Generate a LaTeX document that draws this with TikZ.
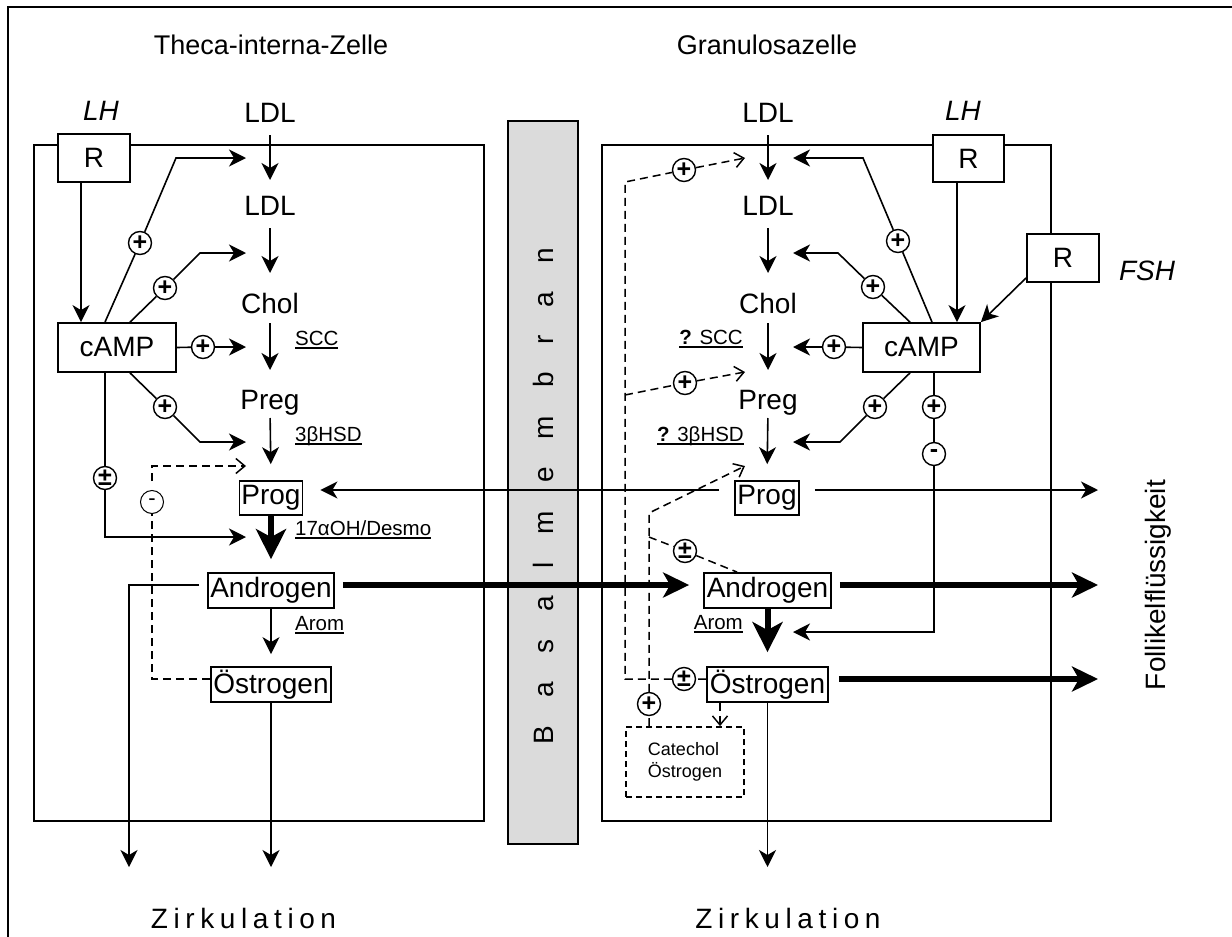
\documentclass[tikz,border=0pt]{standalone}
\usepackage{fontspec}
\setmainfont{Liberation Sans}
\usetikzlibrary{arrows.meta}
\newsavebox{\ulbox}
\newcommand{\ulab}[1]{\sbox{\ulbox}{#1}\rlap{\rule[-3.5pt]{\wd\ulbox}{1.3pt}}\usebox{\ulbox}}
\begin{document}
\begin{tikzpicture}[x=1pt,y=-1pt,
  lab/.style={font=\fontsize{28}{32}\selectfont, inner sep=0pt, anchor=base},
  ttl/.style={font=\fontsize{27}{30}\selectfont, inner sep=0pt, anchor=base},
  itl/.style={lab, font=\fontsize{28}{32}\selectfont\itshape},
  small/.style={font=\fontsize{20.5}{24}\selectfont, inner sep=0pt},
  box/.style={draw, line width=1.8pt, fill=white, inner sep=0pt, font=\fontsize{28}{32}\selectfont},
  cell/.style={draw, line width=1.5pt},
  sig/.style={circle, draw, line width=1.4pt, fill=white, minimum size=23pt, inner sep=0pt, font=\fontsize{25}{25}\selectfont\bfseries},
  ln/.style={line width=1.6pt},
  arr/.style={ln, -{Stealth[length=17pt,width=17pt,inset=5pt]}},
  tarr/.style={line width=6pt, -{Stealth[length=30pt,width=30pt,inset=8pt]}},
  tarrh/.style={line width=6pt, -{Stealth[length=26pt,width=25pt,inset=7pt]}},
  dsh/.style={line width=1.5pt, dash pattern=on 8pt off 5pt},
  darr/.style={dsh, -{Straight Barb[length=9pt,width=15pt,line width=1.5pt]}}
]
\useasboundingbox (0,0) rectangle (1232,937);
% outer frame
\draw[line width=2pt] (8,950) -- (8,7) -- (1245,7);
% cells and membrane
\draw[cell] (34,145) rectangle (484,821);
\draw[cell] (602,145) rectangle (1051,821);
\draw[line width=1.5pt, fill=black!14] (508,121) rectangle (578,844);
\node[lab, anchor=center, rotate=90] (bm) at (543,496) {B\kern28pt a\kern28pt s\kern28pt a\kern28pt l\kern28pt m\kern28pt e\kern28pt m\kern28pt b\kern28pt r\kern28pt a\kern28pt n};

% titles
\node[ttl] (tL) at (271,54) {Theca-interna-Zelle};
\node[ttl] (tR) at (767,54) {Granulosazelle};

% helper y levels
\coordinate (yP) at (0,490);
\coordinate (yA) at (0,585);
\coordinate (yO) at (0,679);

% ---------- left cell ----------
\node[lab] (LDLaL) at (270,122) {LDL};
\node[lab] (LDLbL) at (270,215) {LDL};
\node[lab] (CholL) at (270,313) {Chol};
\node[lab] (PregL) at (270,409) {Preg};
\node[box, minimum width=63pt, minimum height=34pt] (ProgL) at (271,498) {Prog};
\node[box, minimum width=126pt, minimum height=35pt] (AndL) at (271,590.5) {Androgen};
\node[box, minimum width=120pt, minimum height=35pt] (OesL) at (271,684.5) {Östrogen};

\draw[arr, shorten <=13pt, shorten >=35pt] (LDLaL.base) -- (LDLbL.base);
\draw[arr, shorten <=13pt, shorten >=40pt] (LDLbL.base) -- (CholL.base);
\draw[arr, shorten <=10pt, shorten >=39pt] (CholL.base) -- (PregL.base);
\draw[arr, shorten <=9pt, shorten >=16pt] (PregL.base) -- (ProgL.north);
\draw[tarr, shorten >=13pt] (ProgL.south) -- (AndL.north);
\draw[arr, shorten >=12pt] (AndL.south) -- (OesL.north);
\coordinate (zL2) at (271,867);
\coordinate (zL1) at (129,867);
\draw[arr] (OesL.south) -- (zL2);
\draw[arr, shorten <=8pt] (AndL.west |- yA) -| (zL1);

\node[small, anchor=base west] (sccL) at (295,345) {\ulab{SCC}};
\node[small, anchor=base west] (hsdL) at (295,441) {\ulab{3βHSD}};
\node[small, anchor=base west] (ohL) at (295,535) {\ulab{17αOH/Desmo}};
\node[small, anchor=base west] (aromL) at (295,630) {\ulab{Arom}};

\node[itl] (LHL) at (101,120) {LH};
\node[box, minimum width=72pt, minimum height=48pt] (RL) at (94,158) {R};
\node[box, minimum width=118pt, minimum height=49pt] (cAMPL) at (117,347.5) {cAMP};
\coordinate (rl) at ([xshift=-13pt]RL.south);
\draw[arr] (rl) -- (rl |- cAMPL.north);

\coordinate (tL1) at (246,158);
\coordinate (tL2) at (246,253);
\coordinate (tL3) at (246,347);
\coordinate (tL4) at (246,442);
\coordinate (tL5) at (246,537);
\coordinate (tL6) at (246,466);
\coordinate (bL1) at (176,158);
\coordinate (bL2) at (200,253);
\coordinate (bL4) at (200,442);
\node[sig] (pL1) at (140,243) {+};
\node[sig] (pL2) at (165,288) {+};
\node[sig] (pL3) at (203,347) {+};
\node[sig] (pL4) at (165,407) {+};
\node[sig] (pmL) at (105,478) {±};
\draw[arr] ([xshift=-12pt]cAMPL.north) -- (pL1) -- (bL1) -- (tL1);
\draw[arr] ([xshift=13pt]cAMPL.north) -- (pL2) -- (bL2) -- (tL2);
\draw[arr] (cAMPL.east) -- (pL3) -- (tL3);
\draw[arr] ([xshift=13pt]cAMPL.south) -- (pL4) -- (bL4) -- (tL4);
\draw[arr] ([xshift=-12pt]cAMPL.south) -- (pmL) |- (tL5);

\node[sig, line width=1pt, font=\fontsize{22}{22}\selectfont] (mL) at (152,502) {-};
\coordinate (dL1) at (152,679);
\draw[darr, shorten <=9pt] (OesL.west |- yO) -- (dL1) -- (mL) |- (tL6);

% ---------- right cell ----------
\node[lab] (LDLaR) at (768,122) {LDL};
\node[lab] (LDLbR) at (768,215) {LDL};
\node[lab] (CholR) at (768,313) {Chol};
\node[lab] (PregR) at (768,409) {Preg};
\node[box, minimum width=64pt, minimum height=34pt] (ProgR) at (767,498) {Prog};
\node[box, minimum width=127pt, minimum height=35pt] (AndR) at (767.5,590.5) {Androgen};
\node[box, minimum width=121pt, minimum height=35pt] (OesR) at (767.5,684.5) {Östrogen};

\draw[arr, shorten <=13pt, shorten >=35pt] (LDLaR.base) -- (LDLbR.base);
\draw[arr, shorten <=13pt, shorten >=40pt] (LDLbR.base) -- (CholR.base);
\draw[arr, shorten <=10pt, shorten >=39pt] (CholR.base) -- (PregR.base);
\draw[arr, shorten <=9pt, shorten >=16pt] (PregR.base) -- (ProgR.north);
\draw[tarr, shorten >=14pt] (AndR.south) -- (OesR.north);
\coordinate (zR) at (767.5,867);
\draw[arr] (OesR.south) -- (zR);

\node[small, anchor=base east] (sccR) at (743,344) {\ulab{\textbf{?} SCC}};
\node[small, anchor=base east] (hsdR) at (744,441) {\ulab{\textbf{?} 3βHSD}};
\node[small, anchor=base east] (aromR) at (743,629) {\ulab{Arom}};

% transfers between cells and to follicular fluid
\draw[tarrh, shorten <=8pt, shorten >=14pt] (AndL.east |- yA) -- (AndR.west |- yA);
\draw[arr, shorten <=15pt, shorten >=17pt] (ProgR.west |- yP) -- (ProgL.east |- yP);
\coordinate (fP) at (1098,490);
\coordinate (fA) at (1098,585);
\coordinate (fO) at (1098,679);
\draw[arr, shorten <=15pt] (ProgR.east |- yP) -- (fP);
\draw[tarrh, shorten <=8pt] (AndR.east |- yA) -- (fA);
\draw[tarrh, shorten <=10pt] (OesR.east |- yO) -- (fO);
\node[lab, anchor=center, rotate=90] (FF) at (1158,585) {Follikelflüssigkeit};

\node[itl] (LHR) at (963,120) {LH};
\node[box, minimum width=71pt, minimum height=47pt] (RR) at (968.5,158.5) {R};
\node[box, minimum width=72pt, minimum height=48pt] (R2) at (1063,258) {R};
\node[itl] (FSH) at (1147,280) {FSH};
\node[box, minimum width=117pt, minimum height=49pt] (cAMPR) at (921.5,347.5) {cAMP};
\coordinate (rr) at ([xshift=-11.5pt]RR.south);
\draw[arr] (rr) -- (rr |- cAMPR.north);
\draw[arr] ([yshift=5pt]R2.south west) -- (cAMPR.north east);

\coordinate (tR1) at (793,158);
\coordinate (tR2) at (793,253);
\coordinate (tR3) at (793,347);
\coordinate (tR4) at (793,442);
\coordinate (tR5) at (793,632);
\coordinate (bR1) at (863,158);
\coordinate (bR2) at (838,253);
\coordinate (bR4) at (840,442);
\node[sig] (pR1) at (898,241) {+};
\node[sig] (pR2) at (873,287) {+};
\node[sig] (pR3) at (834,347) {+};
\node[sig] (pR4) at (875,407) {+};
\node[sig] (pR5) at (934,407) {+};
\node[sig] (mR) at (934,454) {-};
\draw[arr] ([xshift=10.5pt]cAMPR.north) -- (pR1) -- (bR1) -- (tR1);
\draw[arr] ([xshift=-11.5pt]cAMPR.north) -- (pR2) -- (bR2) -- (tR2);
\draw[arr] (cAMPR.west) -- (pR3) -- (tR3);
\draw[arr] ([xshift=-11.5pt]cAMPR.south) -- (pR4) -- (bR4) -- (tR4);
\draw[arr] ([xshift=12.5pt]cAMPR.south) -- (pR5) -- (mR) |- (tR5);

% dashed feedback network (right)
\node[draw, dash pattern=on 6pt off 4pt, line width=1.8pt, minimum width=118pt, minimum height=70pt, align=left, inner sep=0pt, font=\fontsize{18}{22}\selectfont] (Cat) at (685,762) {Catechol\\Östrogen};
\node[sig] (pmR1) at (684,679) {±};
\node[sig] (pRa) at (684,170) {+};
\node[sig] (pRb) at (685,383) {+};
\node[sig] (pRc) at (649,704) {+};
\node[sig] (pmR2) at (685,551) {±};
\coordinate (dR1) at (625,679);
\coordinate (dR2) at (625,182);
\coordinate (dR3) at (625,395);
\coordinate (tRa) at (745,158);
\coordinate (tRb) at (745,372);
\coordinate (dI1) at (649,513);
\coordinate (dI2) at (649,537);
\coordinate (tRc) at (745,466);
\coordinate (cx) at (720,0);
\draw[darr] (OesR.west |- yO) -- (pmR1) -- (dR1) -- (dR2) -- (pRa) -- (tRa);
\draw[darr] (dR3) -- (pRb) -- (tRb);
\draw[darr] (Cat.north -| dI1) -- (pRc) -- (dI1) -- (tRc);
\draw[dsh] (dI2) -- (pmR2) -- ([xshift=34pt]AndR.north west);
\draw[darr] (OesR.south -| cx) -- (Cat.north -| cx);

% Zirkulation
\node[lab] (zirL) at (243.5,928) {Z\kern5.6pt i\kern5.6pt r\kern5.6pt k\kern5.6pt u\kern5.6pt l\kern5.6pt a\kern5.6pt t\kern5.6pt i\kern5.6pt o\kern5.6pt n};
\node[lab] (zirR) at (788,928) {Z\kern5.6pt i\kern5.6pt r\kern5.6pt k\kern5.6pt u\kern5.6pt l\kern5.6pt a\kern5.6pt t\kern5.6pt i\kern5.6pt o\kern5.6pt n};
\end{tikzpicture}
\end{document}
